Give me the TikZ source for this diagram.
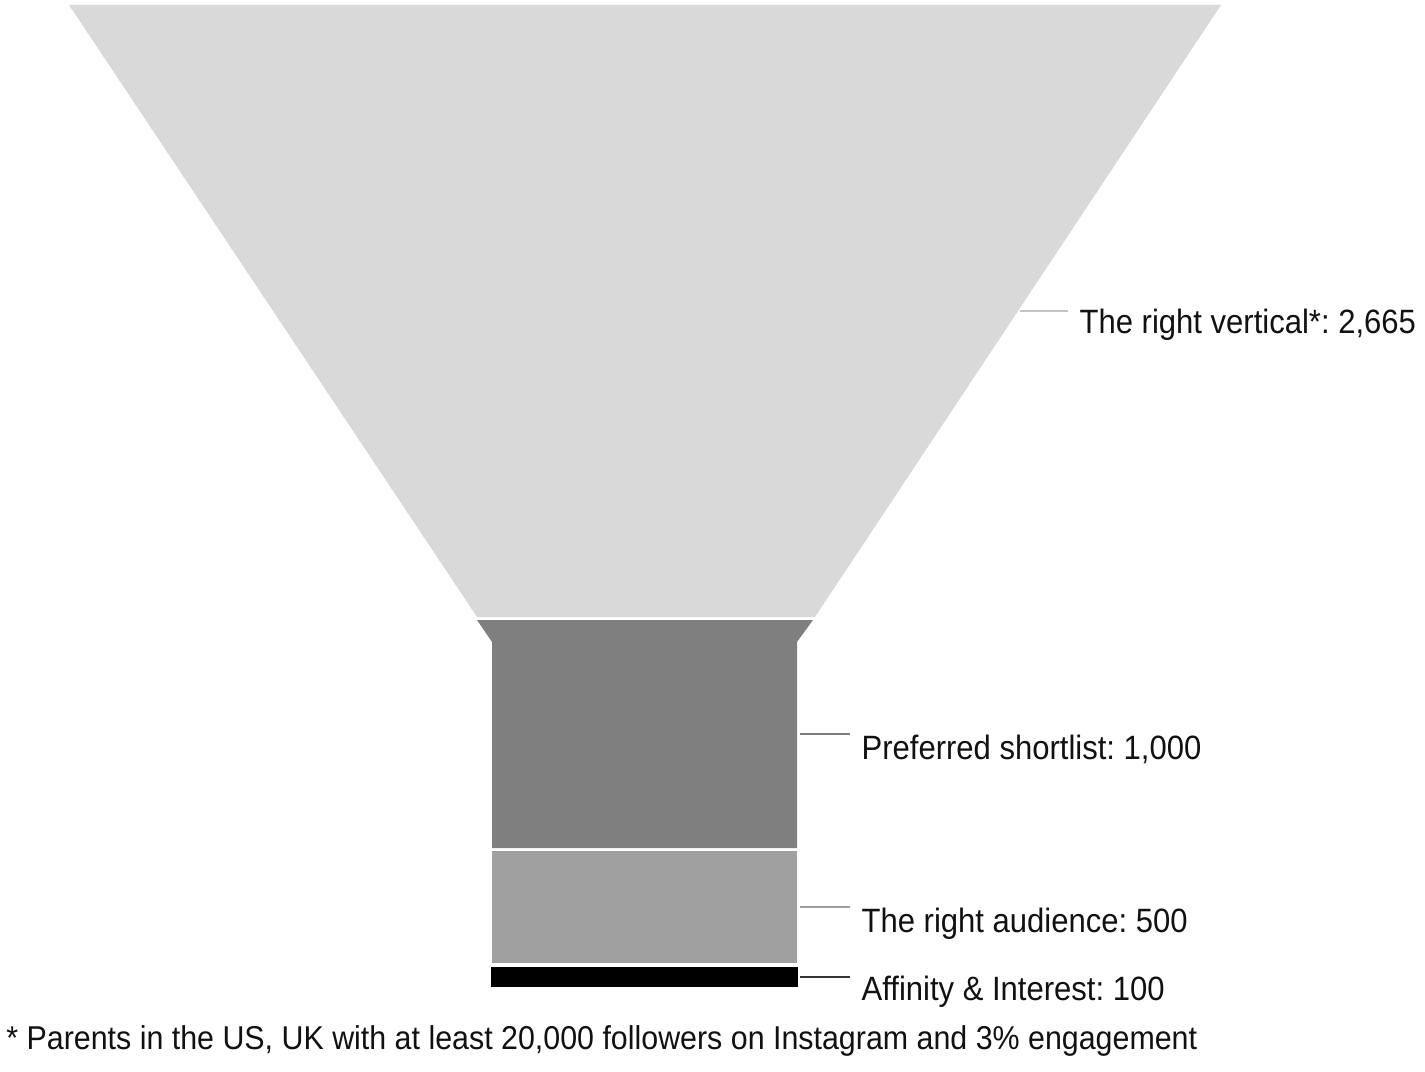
\documentclass[tikz,border=0pt]{standalone}
\usepackage{fontspec}
\setmainfont{Liberation Sans}[FakeStretch=0.92]
\frenchspacing

\definecolor{verticalgray}{HTML}{D9D9D9}
\definecolor{shortlistgray}{HTML}{7F7F7F}
\definecolor{audiencegray}{HTML}{A0A0A0}
\definecolor{textblack}{HTML}{111111}

\tikzset{
    stagelabel/.style={anchor=base west, inner xsep=6.4pt, text=textblack, font=\fontsize{19.2}{22}\selectfont},
    leader/.style={line width=1.1pt}
}

\begin{document}
\begin{tikzpicture}[x=0.02cm, y=-0.02cm]
    \useasboundingbox (0, 0) rectangle (1425, 1071);

    \fill[verticalgray] (69, 5) -- (1221, 5) -- (815, 617) -- (477, 617) -- cycle;
    \fill[shortlistgray] (477, 620) -- (813, 620) -- (797, 642) -- (797, 848)
        -- (492, 848) -- (492, 642) -- cycle;
    \fill[audiencegray] (492, 851) rectangle (797, 963);
    \fill[black] (491, 967) rectangle (798, 987);

    \coordinate (vert) at (1020, 311);
    \coordinate (short) at (800, 734);
    \coordinate (aud) at (800, 907);
    \coordinate (aff) at (800, 977);

    \node[stagelabel] (vertlabel) at (1068, 333) {The right vertical*: 2,665};
    \node[stagelabel] (shortlabel) at (850, 759) {Preferred shortlist: 1,000};
    \node[stagelabel] (audlabel) at (850, 932) {The right audience: 500};
    \node[stagelabel] (afflabel) at (850, 1000) {Affinity \& Interest: 100};

    \draw[leader, verticalgray!90!black] (vert) -- (vert -| vertlabel.west);
    \draw[leader, shortlistgray] (short) -- (short -| shortlabel.west);
    \draw[leader, audiencegray] (aud) -- (aud -| audlabel.west);
    \draw[leader, black!80] (aff) -- (aff -| afflabel.west);

    \node[anchor=base west, inner sep=0, text=textblack, font=\fontsize{18.8}{22}\selectfont]
        (note) at (6, 1049) {* Parents in the US, UK with at least 20,000 followers on Instagram and 3\% engagement};
\end{tikzpicture}
\end{document}
